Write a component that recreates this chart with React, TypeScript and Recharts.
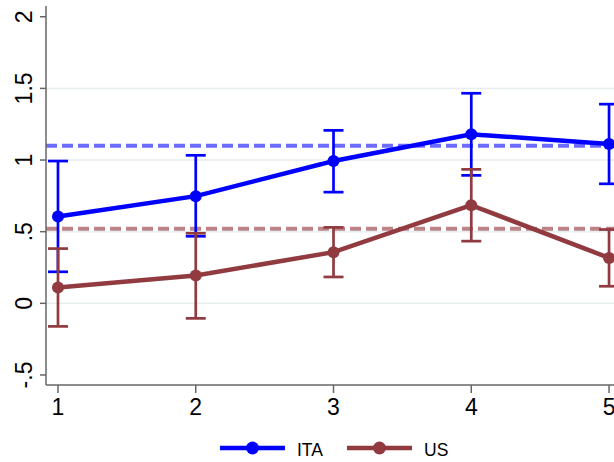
import React from 'react';
import { LineChart, Line, XAxis, YAxis, ErrorBar, ReferenceLine } from 'recharts';

const xValues = [1, 2, 3, 4, 5];
const itaMean = [0.606, 0.748, 0.993, 1.18, 1.112];
const itaLo = [0.22, 0.468, 0.776, 0.893, 0.834];
const itaHi = [0.993, 1.033, 1.207, 1.466, 1.39];
const usMean = [0.11, 0.194, 0.357, 0.685, 0.317];
const usLo = [-0.161, -0.105, 0.184, 0.434, 0.119];
const usHi = [0.382, 0.489, 0.53, 0.935, 0.515];
const itaAvg = 1.1;
const usAvg = 0.52;
const yTicks = [-0.5, 0, 0.5, 1, 1.5, 2];
const yTickLabels = ['-.5', '0', '.5', '1', '1.5', '2'];
const gridValues = [0, 0.5, 1, 1.5];
const seriesNames = ['ITA', 'US'];
const colors = { ita: '#0000ff', us: '#913a40', itaDash: '#6c6cff', usDash: '#bd8386' };

const data = xValues.map((x, i) => ({
  x,
  ita: itaMean[i],
  itaErr: [itaMean[i] - itaLo[i], itaHi[i] - itaMean[i]],
  us: usMean[i],
  usErr: [usMean[i] - usLo[i], usHi[i] - usMean[i]],
}));

const FONT = '"Liberation Sans", Arial, Helvetica, sans-serif';

const YTick = (props: any) => {
  const { x, y, payload } = props;
  const idx = yTicks.indexOf(payload.value);
  const bx = x - 8;
  return (
    <text
      x={bx}
      y={y}
      transform={`rotate(-90 ${bx} ${y})`}
      textAnchor="middle"
      fontSize={23}
      fontFamily={FONT}
      fill="#000"
    >
      {idx >= 0 ? yTickLabels[idx] : payload.value}
    </text>
  );
};

const XTick = (props: any) => {
  const { x, y, payload } = props;
  return (
    <text x={x} y={y + 22} textAnchor="middle" fontSize={23} fontFamily={FONT} fill="#000">
      {payload.value}
    </text>
  );
};

const LegendOverlay = () => {
  const items = [
    { name: seriesNames[0], color: colors.ita, x0: 220 },
    { name: seriesNames[1], color: colors.us, x0: 347 },
  ];
  return (
    <svg width={614} height={462} style={{ position: 'absolute', left: 0, top: 0, pointerEvents: 'none' }}>
      {items.map((it) => (
        <g key={it.name}>
          <line x1={it.x0} x2={it.x0 + 65} y1={448} y2={448} stroke={it.color} strokeWidth={4.5} />
          <circle cx={it.x0 + 32.5} cy={448} r={6.5} fill={it.color} />
          <text x={it.x0 + 77} y={456} fontSize={17.5} fontFamily={FONT} fill="#000">
            {it.name}
          </text>
        </g>
      ))}
    </svg>
  );
};

export default function App() {
  return (
    <div style={{ position: 'absolute', left: 0, top: 0, width: 614, height: 462, background: '#fff' }}>
      <LineChart width={614} height={462} data={data} margin={{ top: 6, right: 0, left: 0, bottom: 0 }}>
        {gridValues.map((v) => (
          <ReferenceLine key={'g' + v} y={v} stroke="#e6eef0" strokeWidth={1.5} />
        ))}
        <ReferenceLine y={itaAvg} stroke={colors.itaDash} strokeWidth={4} strokeDasharray="11 5" />
        <ReferenceLine y={usAvg} stroke={colors.usDash} strokeWidth={4} strokeDasharray="11 5" />
        <XAxis
          dataKey="x"
          type="number"
          domain={[0.913, 5.036]}
          ticks={xValues}
          allowDataOverflow
          height={77}
          tickSize={8}
          tickMargin={0}
          tick={<XTick />}
          axisLine={{ stroke: '#666', strokeWidth: 1.5 }}
          tickLine={{ stroke: '#666', strokeWidth: 1.5 }}
        />
        <YAxis
          type="number"
          domain={[-0.57, 2.075]}
          ticks={yTicks}
          allowDataOverflow
          width={46}
          tickSize={6}
          tickMargin={0}
          tick={<YTick />}
          axisLine={{ stroke: '#666', strokeWidth: 1.5 }}
          tickLine={{ stroke: '#666', strokeWidth: 1.5 }}
        />
        <Line
          dataKey="ita"
          stroke={colors.ita}
          strokeWidth={4.5}
          dot={{ r: 6, fill: colors.ita, stroke: colors.ita, strokeWidth: 0 }}
          activeDot={false}
          isAnimationActive={false}
        >
          <ErrorBar dataKey="itaErr" width={10} stroke={colors.ita} strokeWidth={2.7} direction="y" />
        </Line>
        <Line
          dataKey="us"
          stroke={colors.us}
          strokeWidth={4.5}
          dot={{ r: 6, fill: colors.us, stroke: colors.us, strokeWidth: 0 }}
          activeDot={false}
          isAnimationActive={false}
        >
          <ErrorBar dataKey="usErr" width={10} stroke={colors.us} strokeWidth={2.7} direction="y" />
        </Line>
      </LineChart>
      <LegendOverlay />
    </div>
  );
}
